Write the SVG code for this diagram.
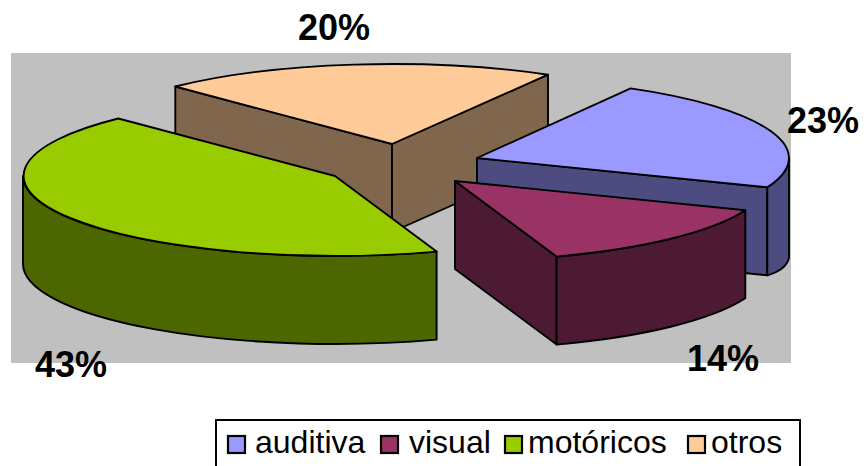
<svg xmlns="http://www.w3.org/2000/svg" width="867" height="466" viewBox="0 0 867 466">
<style>
.e{stroke:#000;stroke-width:1.9;stroke-linejoin:round}
.lbl{font-family:"Liberation Sans",Arial,sans-serif;font-weight:bold;font-size:36px;fill:#000}
.lg{font-family:"Liberation Sans",Arial,sans-serif;font-size:32px;fill:#000}
.sw{stroke:#000;stroke-width:2.2}
</style>
<rect x="0" y="0" width="867" height="466" fill="#fff"/>
<rect id="plot-area" x="11" y="53" width="780" height="310" fill="#C0C0C0"/>
<g id="slice-otros">
<path class="e" fill="#80664C" d="M392,144 L175.3,86.5 L175.3,174.5 L392,232 Z"/>
<path class="e" fill="#80664C" d="M392,144 L548,74.7 L548,162.7 L392,232 Z"/>
<path class="e" fill="#FFCC99" d="M392,144 L175.3,86.5 A312,80 0 0 1 548,74.7 Z"/>
</g>
<g id="slice-auditiva">
<path class="e" fill="#4C4C80" d="M477,158 L767.3,187.3 L767.3,275.3 L477,246 Z"/>
<path class="e" fill="#4C4C80" d="M767.3,187.3 A312,80 0 0 0 789,158 L789,258 Q786,270 767.3,275.3 Z"/>
<path class="e" fill="#9999FF" d="M477,158 L630.6,88.4 A312,80 0 0 1 767.3,187.3 Z"/>
</g>
<g id="slice-motoricos">
<path class="e" fill="#4C6600" d="M436.6,251.6 A312,80 0 0 1 23,176 L23,264 A312,80 0 0 0 436.6,339.6 Z"/>
<path class="e" fill="#99CC00" d="M335,176 L436.6,251.6 A312,80 0 0 1 118.3,118.5 Z"/>
</g>
<g id="slice-visual">
<path class="e" fill="#4C1A33" d="M455,181 L556.6,256.6 L556.6,344.6 L455,269 Z"/>
<path class="e" fill="#4C1A33" d="M745.3,210.3 A312,80 0 0 1 556.6,256.6 L556.6,344.6 A312,80 0 0 0 745.3,298.3 Z"/>
<path class="e" fill="#993366" d="M455,181 L745.3,210.3 A312,80 0 0 1 556.6,256.6 Z"/>
</g>
<g id="labels">
<text class="lbl" x="298" y="40">20%</text>
<text class="lbl" x="787" y="133">23%</text>
<text class="lbl" x="35" y="377">43%</text>
<text class="lbl" x="687" y="371">14%</text>
</g>
<g id="legend">
<rect x="216" y="420" width="584" height="60" fill="#fff" stroke="#000" stroke-width="2"/>
<rect class="sw" x="228" y="436" width="17" height="17" fill="#9999FF"/>
<text class="lg" x="255" y="453">auditiva</text>
<rect class="sw" x="381" y="436" width="17" height="17" fill="#993366"/>
<text class="lg" x="409" y="453">visual</text>
<rect class="sw" x="505" y="436" width="17" height="17" fill="#99CC00"/>
<text class="lg" x="528" y="453">motóricos</text>
<rect class="sw" x="688" y="436" width="17" height="17" fill="#FFCC99"/>
<text class="lg" x="711" y="453">otros</text>
</g>
</svg>
